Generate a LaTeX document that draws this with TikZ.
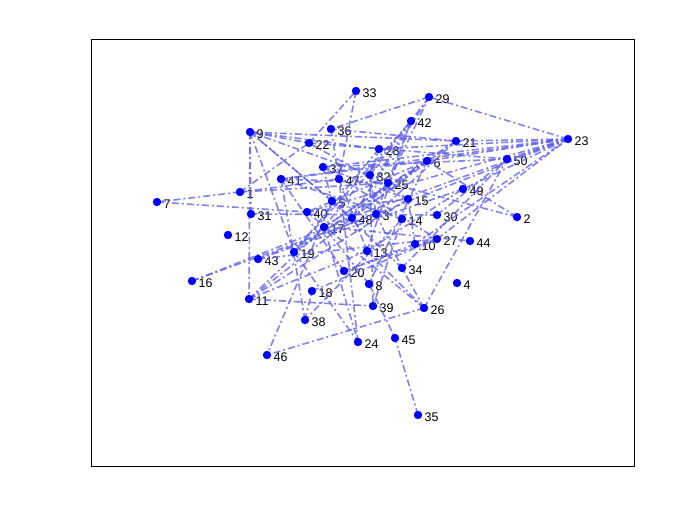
\documentclass[tikz,border=0pt]{standalone}
\usepackage{fontspec}
\setmainfont{Liberation Sans}
\definecolor{edgecol}{RGB}{95,95,235}
\definecolor{dotcol}{RGB}{0,0,255}
\tikzset{
  edge/.style={draw=edgecol, line width=1.6pt, opacity=0.78, dash pattern=on 7pt off 3pt on 2pt off 3pt},
  vtx/.style={circle, fill=dotcol, inner sep=0pt, minimum size=8.4pt},
  lbl/.style={anchor=west, inner sep=0pt, font=\fontsize{12.5}{14}\selectfont},
  axbox/.style={draw=black, line width=0.6pt}
}
\begin{document}
\begin{tikzpicture}[x=1pt,y=-1pt]
\useasboundingbox (0,0) rectangle (700,525);
\fill[white] (0,0) rectangle (700,525);
\node[axbox, minimum width=543pt, minimum height=427pt, inner sep=0pt, anchor=north west] (axes) at (91,39) {};
\foreach \n/\x/\y in {1/240/192,2/517/217,3/376/214,4/457/283,5/332/201,6/427/161,7/157/202,8/369/284,9/250/132,10/415/244,
11/249/299,12/228/235,13/367/251,14/402/219,15/408/199,16/192/281,17/324/227,18/312/291,19/294/252,20/344/271,
21/456/141,22/309/143,23/568/139,24/358/342,25/388/183,26/424/308,27/437/239,28/379/149,29/429/97,30/437/215,
31/251/214,32/370/175,33/356/91,34/402/268,35/418/415,36/331/129,37/323/167,38/305/320,39/373/306,40/307/212,
41/281/179,42/411/121,43/258/259,44/470/241,45/395/338,46/267/355,47/339/179,48/352/218,49/463/189,50/507/159}
{
  \coordinate (v\n) at (\x,\y);
  \node[lbl] (l\n) at (\x+6.5,\y+2) {\n};
}
\foreach \a/\b in {1/7,1/22,1/25,1/47,2/6,2/25,3/42,3/43,3/34,5/9,5/46,5/34,6/23,6/48,6/19,6/8,7/40,8/45,8/17,
9/11,9/31,9/22,9/21,9/32,9/19,10/23,10/15,10/20,11/39,11/48,11/13,11/15,13/26,13/49,14/41,14/38,14/39,15/22,
16/48,17/44,17/21,17/24,19/42,19/24,20/41,20/27,21/23,21/36,22/33,22/50,23/29,23/28,23/50,23/49,23/40,23/41,
25/29,25/48,26/46,26/40,26/34,26/50,28/32,29/36,29/48,30/31,30/50,32/39,33/47,34/50,35/45,36/47,37/50,37/27,
38/41,38/18,43/49,18/27,42/17,27/23,3/21,24/47,
23/17,23/3,23/37,9/28,9/48,41/25,41/6,37/5,37/15,40/15,43/27,16/3,11/17,42/48,42/13,29/32,47/13,28/19,21/48,32/3,6/40,6/17}
{
  \draw[edge] (v\a) -- (v\b);
}
\foreach \n in {1,...,50}
{
  \node[vtx] (d\n) at (v\n) {};
}
\end{tikzpicture}
\end{document}
